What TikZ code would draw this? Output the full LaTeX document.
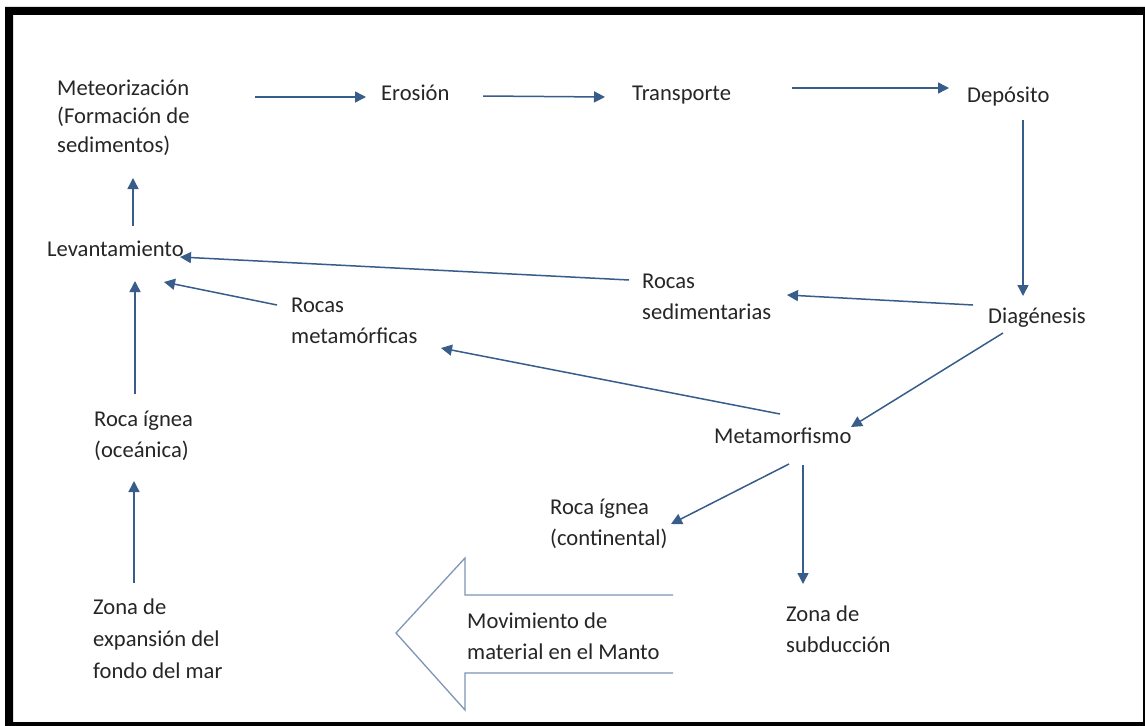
\documentclass[tikz,border=0pt]{standalone}
\usepackage{fontspec}
\setmainfont{Carlito}
\usetikzlibrary{arrows.meta}
\definecolor{arrblue}{HTML}{385D8A}
\definecolor{bigarr}{HTML}{7F95B5}
\definecolor{txt}{HTML}{262626}
\begin{document}
\begin{tikzpicture}[x=1pt,y=-1pt,
  lbl/.style={anchor=base west,inner sep=0pt,align=left,text=txt,font=\fontsize{22.6}{31}\selectfont},
  arr/.style={draw=arrblue,line width=1.5pt,-{Triangle[length=11pt,width=11pt]}}]
\useasboundingbox (0,0) rectangle (1145,725);
\fill[white] (0,0) rectangle (1145,725);
% frame
\fill[black,even odd rule] (5,7) rectangle (1150,730) (13,15) rectangle (1143,722);
% labels (multi-line nodes: position is the baseline of the last line)
\node[lbl,font=\fontsize{22.6}{28.5}\selectfont] (meteor) at (57,152) {Meteorización\\(Formación de\\sedimentos)};
\node[lbl] (erosion) at (381,100) {Erosión};
\node[lbl] (transp) at (632,100) {Transporte};
\node[lbl] (depos) at (967,102) {Depósito};
\node[lbl] (levant) at (47,256) {Levantamiento};
\node[lbl] (rsed) at (642,319) {Rocas\\sedimentarias};
\node[lbl] (rmet) at (291,343) {Rocas\\metamórficas};
\node[lbl] (diag) at (988,323) {Diagénesis};
\node[lbl] (rio) at (94,457) {Roca ígnea\\(oceánica)};
\node[lbl] (metam) at (714,443) {Metamorfismo};
\node[lbl] (ric) at (550,545) {Roca ígnea\\(continental)};
\node[lbl] (zsub) at (786,652) {Zona de\\subducción};
\node[lbl,font=\fontsize{22.6}{32}\selectfont] (zexp) at (93,678) {Zona de\\expansión del\\fondo del mar};
\node[lbl] (mov) at (467,659) {Movimiento de\\material en el Manto};
% big arrow
\draw[bigarr,line width=1.3pt,line join=miter] (673,595) -- (465,595) -- (465,558) -- (396,633) -- (465,710) -- (465,673) -- (673,673);
% connector end points
\coordinate (a1s) at (255,97);   \coordinate (a1e) at (366,97);
\coordinate (a2s) at (483,96);   \coordinate (a2e) at (605,97);
\coordinate (a3s) at (792,88);   \coordinate (a3e) at (949,88);
\coordinate (a4s) at (1023,120); \coordinate (a4e) at (1023,296);
\coordinate (a5s) at (973,305);  \coordinate (a5e) at (787,295);
\coordinate (a6s) at (629,280);  \coordinate (a6e) at (180,257);
\coordinate (a7s) at (277,305);  \coordinate (a7e) at (164,282);
\coordinate (a8s) at (780,414);  \coordinate (a8e) at (441,348);
\coordinate (a9s) at (1003,333); \coordinate (a9e) at (851,427);
\coordinate (a10s) at (789,464); \coordinate (a10e) at (671,524);
\coordinate (a11s) at (803,465); \coordinate (a11e) at (803,584);
\coordinate (a12s) at (133,226); \coordinate (a12e) at (133,178);
\coordinate (a13s) at (135,394); \coordinate (a13e) at (135,281);
\coordinate (a14s) at (134,583); \coordinate (a14e) at (134,481);
% connectors
\draw[arr] (a1s) -- (a1e);
\draw[arr] (a2s) -- (a2e);
\draw[arr] (a3s) -- (a3e);
\draw[arr] (a4s) -- (a4e);
\draw[arr] (a5s) -- (a5e);
\draw[arr] (a6s) -- (a6e);
\draw[arr] (a7s) -- (a7e);
\draw[arr] (a8s) -- (a8e);
\draw[arr] (a9s) -- (a9e);
\draw[arr] (a10s) -- (a10e);
\draw[arr] (a11s) -- (a11e);
\draw[arr] (a12s) -- (a12e);
\draw[arr] (a13s) -- (a13e);
\draw[arr] (a14s) -- (a14e);
\end{tikzpicture}
\end{document}
